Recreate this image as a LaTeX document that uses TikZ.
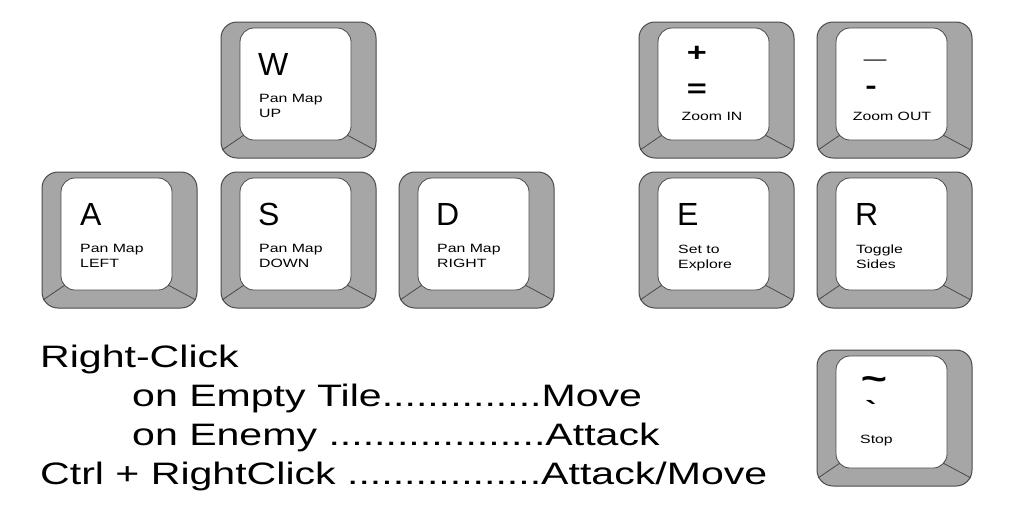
\documentclass[tikz,border=0pt]{standalone}
\usepackage{fontspec}
\setmainfont{Liberation Sans}
\newfontfamily\widefont[FakeStretch=1.32]{Liberation Sans}
\newfontfamily\helpfont[FakeStretch=1.325]{Liberation Sans}
\usetikzlibrary{calc}

\definecolor{capgray}{HTML}{A6A6A6}
\definecolor{capline}{HTML}{4A4A4A}

% one key cap: name, left, top
\newcommand{\keycap}[3]{%
  \coordinate (#1) at (#2,#3);
  \draw[keybody] (#1) rectangle ++(155,136);
  \draw[keyface] ($(#1)+(19,6)$) rectangle ($(#1)+(130,118)$);
  \draw[keyedge] ($(#1)+(23,113)$) -- ($(#1)+(1,128)$);
  \draw[keyedge] ($(#1)+(126,113)$) -- ($(#1)+(154,128)$);
}

\begin{document}
\begin{tikzpicture}[x=1pt,y=-1pt,
  keybody/.style={fill=capgray,draw=capline,line width=1pt,rounded corners=16pt},
  keyface/.style={fill=white,draw=capline,line width=0.8pt,rounded corners=14pt},
  keyedge/.style={draw=capline,line width=0.8pt},
  keyletter/.style={anchor=base west,inner sep=0pt,font=\fontsize{32}{32}\selectfont},
  keynote/.style={anchor=base west,inner sep=0pt,font=\widefont\fontsize{12}{14}\selectfont},
  keysym/.style={anchor=center,inner sep=0pt,font=\widefont\bfseries\fontsize{26}{26}\selectfont},
  helpline/.style={anchor=base west,inner sep=0pt,font=\helpfont\fontsize{31}{31}\selectfont}]
  \useasboundingbox (0,0) rectangle (1024,512);

  % movement keys
  \keycap{wkey}{221}{22}
  \keycap{akey}{42}{172}
  \keycap{skey}{221}{172}
  \keycap{dkey}{399}{172}
  % zoom and mode keys
  \keycap{pluskey}{639}{22}
  \keycap{minuskey}{817}{22}
  \keycap{ekey}{639}{172}
  \keycap{rkey}{817}{172}
  \keycap{tildekey}{817}{350}

  \node[keyletter] (wlet) at ($(wkey)+(37,53)$) {W};
  \node[keynote] (wnote) at ($(wkey)+(38,80)$) {Pan Map};
  \node[keynote] (wdir) at ($(wkey)+(38,95)$) {UP};

  \node[keyletter] (alet) at ($(akey)+(38,53)$) {A};
  \node[keynote] (anote) at ($(akey)+(38,80)$) {Pan Map};
  \node[keynote] (adir) at ($(akey)+(38,95)$) {LEFT};

  \node[keyletter] (slet) at ($(skey)+(37,53)$) {S};
  \node[keynote] (snote) at ($(skey)+(38,80)$) {Pan Map};
  \node[keynote] (sdir) at ($(skey)+(38,95)$) {DOWN};

  \node[keyletter] (dlet) at ($(dkey)+(37,53)$) {D};
  \node[keynote] (dnote) at ($(dkey)+(38,80)$) {Pan Map};
  \node[keynote] (ddir) at ($(dkey)+(38,95)$) {RIGHT};

  \node[keysym] (plus) at ($(pluskey)+(58,32)$) {+};
  \node[keysym] (equal) at ($(pluskey)+(58,69)$) {=};
  \node[keynote,anchor=base] (zin) at ($(pluskey)+(73,98)$) {Zoom IN};

  \node[keysym,font=\widefont\bfseries\fontsize{30}{30}\selectfont] (under) at ($(minuskey)+(58,37)$) {\_};
  \node[keysym] (minus) at ($(minuskey)+(54,68)$) {-};
  \node[keynote,anchor=base] (zout) at ($(minuskey)+(75,98)$) {Zoom OUT};

  \node[keyletter] (elet) at ($(ekey)+(38,53)$) {E};
  \node[keynote] (enote) at ($(ekey)+(39,81)$) {Set to};
  \node[keynote] (emode) at ($(ekey)+(39,96)$) {Explore};

  \node[keyletter] (rlet) at ($(rkey)+(38,53)$) {R};
  \node[keynote] (rnote) at ($(rkey)+(39,81)$) {Toggle};
  \node[keynote] (rmode) at ($(rkey)+(39,96)$) {Sides};

  \node[keysym,anchor=base,font=\widefont\bfseries\fontsize{34}{34}\selectfont] (tilde) at ($(tildekey)+(57,40)$) {\char`\~};
  \node[keysym,anchor=base] (grave) at ($(tildekey)+(54,69)$) {\char`\`};
  \node[keynote] (stop) at ($(tildekey)+(43,93)$) {Stop};

  % mouse help
  \node[helpline] (rclick) at (40,367) {Right-Click};
  \node[helpline] (rmove) at (132,406) {on Empty Tile..............Move};
  \node[helpline] (rattack) at (132,445) {on Enemy ...................Attack};
  \node[helpline] (ctrlclick) at (40,484) {Ctrl + RightClick .................Attack/Move};
\end{tikzpicture}
\end{document}
